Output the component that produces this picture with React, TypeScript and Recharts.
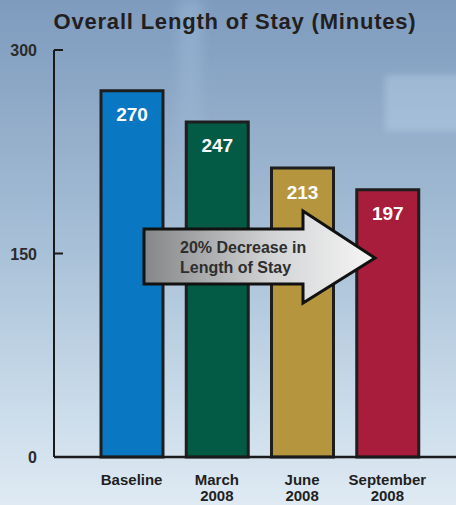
import React from 'react';
import { BarChart, Bar, XAxis, YAxis, Cell, LabelList } from 'recharts';

// chart data
const categories = ['Baseline', 'March 2008', 'June 2008', 'September 2008'];
const minutes = [270, 247, 213, 197];
const yTicks = [0, 150, 300];

const barColors = ['#0a77c3', '#035a45', '#b5963f', '#a91d3c'];
const FONT = '"Liberation Sans", Arial, Helvetica, sans-serif';

const data = categories.map((name, i) => ({ name, value: minutes[i] }));

const YTick = (props: any) => {
    const { x, y, payload } = props;
    return (
        <g>
            {payload.value > 0 && <line x1={x} x2={x + 9} y1={y} y2={y} stroke="#1a1a1a" strokeWidth={2} />}
            <text x={x - 17} y={y + 6} textAnchor="end" fontFamily={FONT} fontWeight="bold" fontSize={16} fill="#2b2b2b">
                {payload.value}
            </text>
        </g>
    );
};

const XTick = (props: any) => {
    const { x, y, payload } = props;
    const words = String(payload.value).split(' ');
    return (
        <text x={x} y={y} textAnchor="middle" fontFamily={FONT} fontWeight="bold" fontSize={15} fill="#1f1f1f">
            <tspan x={x} dy={28}>{words[0]}</tspan>
            {words.length > 1 && <tspan x={x} dy={16}>{words.slice(1).join(' ')}</tspan>}
        </text>
    );
};

const App: React.FC = () => {
    return (
        <div
            style={{
                position: 'absolute',
                left: 0,
                top: 0,
                width: 456,
                height: 505,
                overflow: 'hidden',
                fontFamily: FONT,
                background: 'linear-gradient(180deg, #7e9bbe 0%, #93adca 25%, #a9c1d8 50%, #c4d7e7 75%, #dfeaf3 100%)',
            }}
        >
            {/* soft highlights in the backdrop */}
            <div style={{ position: 'absolute', left: 385, top: 75, width: 80, height: 56, background: 'rgba(205,230,248,0.3)', filter: 'blur(3px)' }} />
            <div style={{ position: 'absolute', left: 178, top: 0, width: 24, height: 260, background: 'linear-gradient(180deg, rgba(180,208,236,0.3), rgba(180,208,236,0))', filter: 'blur(6px)' }} />

            <div
                style={{
                    position: 'absolute',
                    left: 0,
                    top: 9,
                    width: 470,
                    textAlign: 'center',
                    fontSize: 22,
                    fontWeight: 'bold',
                    letterSpacing: 0.8,
                    color: '#231f20',
                }}
            >
                Overall Length of Stay (Minutes)
            </div>

            <div style={{ position: 'absolute', left: 0, top: 0 }}>
                <BarChart width={456} height={505} data={data} margin={{ top: 50, right: 0, bottom: 0, left: 0 }}>
                    <XAxis
                        dataKey="name"
                        height={48}
                        padding={{ left: 35, right: 26 }}
                        axisLine={{ stroke: '#1a1a1a', strokeWidth: 2.5 }}
                        tickLine={false}
                        tickSize={0}
                        tickMargin={0}
                        interval={0}
                        tick={<XTick />}
                    />
                    <YAxis
                        width={54}
                        domain={[0, 300]}
                        ticks={yTicks}
                        axisLine={{ stroke: '#1a1a1a', strokeWidth: 2 }}
                        tickLine={false}
                        tickSize={0}
                        tickMargin={0}
                        tick={<YTick />}
                    />
                    <Bar dataKey="value" barSize={62} stroke="#1e1e1e" strokeWidth={3} isAnimationActive={false}>
                        {data.map((d, i) => (
                            <Cell key={d.name} fill={barColors[i]} />
                        ))}
                        <LabelList dataKey="value" position="insideTop" offset={17} fill="#ffffff" fontSize={19} fontWeight="bold" fontFamily={FONT} />
                    </Bar>
                </BarChart>
            </div>

            {/* annotation arrow */}
            <svg width={456} height={505} style={{ position: 'absolute', left: 0, top: 0 }}>
                <defs>
                    <linearGradient id="arrowFill" x1="0" x2="1" y1="0" y2="0">
                        <stop offset="0%" stopColor="#858688" />
                        <stop offset="55%" stopColor="#d2d3d5" />
                        <stop offset="100%" stopColor="#f6f6f6" />
                    </linearGradient>
                </defs>
                <polygon
                    points="144,229 303,229 303,211 375,258 303,303 303,284 144,284"
                    fill="url(#arrowFill)"
                    stroke="#111"
                    strokeWidth={3}
                    strokeLinejoin="miter"
                />
                <text x={180} y={253} fontFamily={FONT} fontWeight="bold" fontSize={16} fill="#2e2e2e">20% Decrease in</text>
                <text x={180} y={273} fontFamily={FONT} fontWeight="bold" fontSize={16} fill="#2e2e2e">Length of Stay</text>
            </svg>
        </div>
    );
};

export default App;
